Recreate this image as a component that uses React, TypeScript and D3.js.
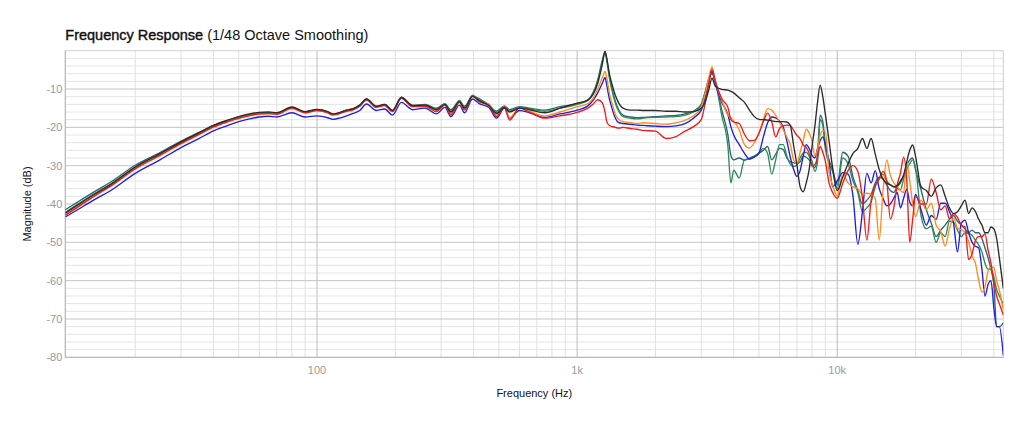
import React from "react";
import * as d3 from "d3";

const freqs = [
  10.77, 12, 14, 16, 20, 25, 30, 35, 40, 45, 50, 55, 60, 65, 70, 80, 90, 100,
  110, 115, 120, 130, 137, 146, 155, 169, 182, 195, 211, 233, 260, 288, 310, 327, 353, 369, 396, 420, 458, 490, 525, 550, 600, 656, 750, 860,
  1000, 1100, 1150, 1200, 1250, 1280, 1300, 1330, 1370, 1400, 1450, 1500, 1600, 1700, 1800, 2000, 2200, 2400, 2600, 2800, 3000, 3100, 3200, 3300,
  3400, 3600, 3800, 3900, 4000, 4200, 4400, 4600, 4800, 5000, 5200, 5400, 5600, 5800, 6000, 6200, 6400, 6600, 6800, 7000, 7200, 7400, 7600, 7800, 8000, 8200, 8400, 8600, 8800, 9000, 9300, 9600,
  10000, 10500, 11000, 11500, 12000, 12500, 13000, 13500, 14000, 14500, 15000, 15500, 16000, 16500, 17000, 17500, 18000, 18500, 19000, 19500, 20000, 21000, 22000, 23000, 24000, 25000, 26000, 27000, 28000, 29000, 30000, 31000, 32000, 33000, 34000, 35000, 36000, 37000, 38000, 39000, 40000, 41000, 42000, 43500,
];

const tealValues = [
  -41.5, -39.5, -36.7, -34.4, -29.9, -26.5, -23.6, -21.4, -19.5, -18.3, -17.3, -16.7, -16.3, -16.2, -16.4, -14.9, -16.0, -15.4,
  -16.0, -16.5, -16.3, -15.5, -15.2, -14.2, -12.6, -14.5, -14.0, -15.6, -12.1, -14.3, -14.0, -15.0, -13.9, -15.4, -13.2, -14.5, -11.9, -12.5, -14.2, -15.8, -14.4, -15.4, -14.6, -15.0, -15.5, -14.6,
  -13.8, -12.8, -11.0, -7.6, -2.5, -0.3, -2.2, -6.5, -10.6, -13.0, -15.6, -16.8, -17.3, -17.5, -17.4, -17.2, -17.0, -16.9, -16.5, -15.8, -14.0, -11.0, -7.8, -6.0,
  -8.2, -15.5, -22.0, -27.3, -28.5, -28.0, -28.6, -28.0, -27.5, -26.8, -26.0, -25.0, -28.5, -27.0, -25.5, -25.8, -28.0, -29.0, -29.2, -29.5, -29.0, -27.5, -27.8, -28.5, -29.5, -30.5, -27.0, -16.8, -18.5, -24.5, -28.5, -31.0,
  -35.0, -26.5, -27.5, -33.0, -36.5, -40.0, -39.0, -37.5, -34.5, -33.0, -33.5, -35.0, -36.5, -37.0, -35.5, -34.5, -32.5, -30.0, -28.5, -28.0, -31.1, -36.3, -41.5, -45.0, -48.5, -46.8, -45.5, -44.0, -43.0, -44.5, -45.5, -46.5, -47.5, -46.8, -47.5, -47.5, -49.0, -51.5, -54.0, -57.0, -61.0, -72.0, -72.0, -71.0,
];

const greenValues = [
  -42.2, -40.1, -37.2, -34.9, -30.3, -26.8, -23.9, -21.6, -19.7, -18.4, -17.4, -16.7, -16.3, -16.2, -16.4, -14.8, -16.0, -15.4,
  -16.0, -16.6, -16.4, -15.6, -15.3, -14.3, -12.7, -14.6, -14.1, -15.7, -12.2, -14.4, -14.2, -15.2, -13.8, -15.8, -13.0, -14.8, -11.6, -12.8, -14.0, -16.2, -14.6, -15.8, -14.8, -15.2, -15.8, -15.0,
  -14.0, -13.0, -11.3, -8.0, -3.0, -0.5, -2.5, -7.0, -11.1, -13.5, -16.0, -17.2, -17.6, -17.8, -17.6, -17.4, -17.3, -17.2, -16.8, -16.0, -14.2, -11.0, -7.5, -5.6,
  -8.0, -17.0, -25.0, -34.5, -31.2, -33.2, -28.5, -28.2, -27.8, -26.6, -25.5, -26.8, -32.2, -28.5, -24.5, -24.5, -27.5, -29.6, -30.2, -29.8, -28.0, -26.7, -26.5, -27.5, -28.8, -31.5, -29.0, -18.0, -19.5, -25.5, -29.5, -31.5,
  -36.0, -28.0, -29.5, -34.0, -37.0, -42.0, -41.0, -39.5, -35.5, -33.5, -32.2, -34.0, -35.0, -35.5, -36.0, -36.3, -33.5, -31.0, -29.5, -28.5, -30.5, -43.0, -46.5, -45.8, -50.0, -47.5, -48.5, -44.5, -44.8, -46.8, -48.5, -47.5, -47.7, -48.2, -49.5, -50.7, -52.5, -55.5, -57.0, -57.0, -59.0, -62.3, -64.0, -66.0,
];

const blueValues = [
  -43.4, -41.5, -38.8, -36.6, -32.0, -28.4, -25.3, -23.0, -20.9, -19.6, -18.5, -17.8, -17.3, -17.1, -17.3, -16.2, -17.3, -17.0,
  -17.5, -17.9, -17.7, -17.0, -16.4, -15.6, -13.9, -15.6, -15.2, -16.8, -13.5, -15.4, -15.0, -16.5, -14.8, -17.2, -14.2, -16.2, -12.6, -13.8, -14.8, -17.6, -15.0, -17.6, -15.6, -16.2, -17.4, -16.5,
  -15.5, -14.4, -13.0, -11.0, -8.5, -7.0, -9.0, -12.5, -15.6, -17.5, -18.8, -19.0, -19.2, -19.4, -19.5, -19.7, -19.8, -19.6, -19.0, -17.6, -15.5, -12.5, -8.5, -5.3,
  -8.8, -13.5, -16.7, -19.8, -22.0, -24.5, -26.8, -28.3, -27.7, -26.7, -22.5, -18.8, -17.3, -17.5, -18.4, -19.9, -23.5, -27.8, -31.0, -32.8, -31.3, -27.5, -24.5, -25.5, -27.3, -28.0, -25.5, -23.5, -22.5, -24.5, -29.0, -35.5,
  -34.0, -31.8, -32.2, -38.0, -50.5, -42.0, -32.0, -34.5, -31.3, -36.0, -38.5, -40.5, -40.0, -38.5, -37.0, -41.0, -38.5, -36.2, -39.5, -40.5, -37.5, -41.5, -45.5, -43.0, -44.0, -39.8, -39.8, -42.0, -45.0, -52.5, -45.0, -44.2, -47.5, -50.0, -51.0, -51.5, -57.0, -64.0, -61.0, -60.0, -67.0, -72.0, -72.0, -79.5,
];

const orangeValues = [
  -43.0, -40.9, -37.9, -35.5, -30.9, -27.3, -24.3, -22.0, -20.0, -18.7, -17.7, -17.0, -16.6, -16.4, -16.6, -15.1, -16.2, -15.6,
  -16.1, -16.6, -16.4, -15.6, -15.3, -14.3, -12.8, -14.6, -14.2, -15.7, -12.3, -14.5, -14.3, -15.6, -14.0, -16.4, -13.3, -15.2, -11.9, -13.2, -14.0, -16.8, -14.5, -17.5, -15.0, -15.8, -17.0, -16.0,
  -14.6, -13.8, -12.5, -10.0, -7.0, -5.4, -7.0, -11.0, -14.3, -16.5, -18.0, -18.5, -18.8, -19.0, -18.8, -19.0, -19.2, -18.8, -18.2, -17.0, -14.8, -11.5, -7.5, -4.2,
  -8.0, -12.9, -16.8, -17.5, -18.3, -20.7, -24.5, -25.4, -24.0, -21.5, -18.0, -15.1, -15.5, -16.9, -18.6, -20.6, -22.5, -24.5, -28.5, -29.5, -26.5, -23.5, -20.5, -21.5, -23.5, -27.5, -25.8, -22.0, -21.0, -21.0, -31.5, -35.0,
  -38.0, -32.0, -34.5, -35.5, -36.0, -37.5, -37.2, -37.5, -38.6, -49.4, -36.5, -28.5, -32.5, -34.5, -35.5, -36.5, -37.0, -29.0, -34.0, -40.0, -43.3, -39.0, -41.5, -39.8, -45.5, -47.2, -51.0, -46.5, -43.7, -46.3, -46.7, -47.5, -49.8, -53.5, -55.5, -60.0, -63.0, -61.5, -57.5, -56.5, -56.5, -60.0, -62.5, -67.6,
];

const redValues = [
  -42.9, -40.8, -37.8, -35.4, -30.8, -27.2, -24.2, -21.9, -19.9, -18.6, -17.6, -16.9, -16.5, -16.4, -16.6, -15.0, -16.2, -15.6,
  -16.2, -16.8, -16.6, -15.8, -15.5, -14.5, -12.9, -14.8, -14.3, -15.9, -12.4, -14.6, -14.5, -15.9, -14.2, -16.8, -13.5, -15.5, -11.8, -13.3, -14.3, -17.2, -14.7, -18.1, -15.0, -16.0, -17.6, -17.0,
  -16.1, -15.0, -14.0, -12.8, -13.6, -16.0, -18.5, -19.5, -19.8, -20.0, -20.2, -20.0, -20.3, -20.5, -20.8, -21.0, -22.9, -22.4, -21.0, -19.8, -18.0, -14.0, -9.0, -4.8,
  -8.0, -12.5, -14.8, -18.0, -18.6, -19.0, -21.8, -23.5, -23.4, -21.6, -18.5, -16.3, -18.5, -22.5, -20.3, -19.6, -19.4, -19.5, -20.8, -22.1, -23.0, -24.6, -25.2, -26.8, -30.2, -29.8, -27.8, -25.0, -26.5, -28.8, -34.5, -37.0,
  -38.5, -34.6, -31.3, -30.0, -31.5, -38.5, -49.4, -39.0, -35.2, -33.3, -31.5, -34.0, -43.9, -41.0, -35.0, -32.0, -27.8, -33.5, -50.0, -44.0, -38.0, -40.0, -40.0, -33.5, -37.0, -41.5, -40.5, -43.8, -42.5, -43.5, -45.5, -46.0, -54.5, -53.0, -49.5, -48.5, -48.5, -47.8, -52.0, -55.5, -60.5, -64.0, -66.0, -69.0,
];

const blackValues = [
  -42.4, -40.3, -37.4, -35.0, -30.4, -26.8, -23.8, -21.5, -19.5, -18.2, -17.2, -16.5, -16.1, -16.0, -16.2, -14.7, -15.9, -15.3,
  -15.9, -16.5, -16.3, -15.5, -15.2, -14.2, -12.6, -14.5, -14.0, -15.6, -12.2, -14.3, -14.2, -15.4, -14.0, -16.0, -13.3, -15.0, -11.9, -13.0, -14.3, -16.4, -14.8, -16.0, -15.0, -15.4, -16.2, -15.0,
  -13.7, -12.9, -11.5, -8.5, -3.5, -0.1, -2.0, -6.0, -9.4, -11.5, -13.8, -15.0, -15.5, -15.5, -15.6, -15.6, -15.8, -15.8, -16.0, -15.9, -15.0, -13.5, -10.5, -7.2,
  -9.3, -10.1, -10.3, -10.6, -11.0, -12.3, -13.5, -15.5, -17.2, -17.9, -18.0, -18.1, -18.3, -18.5, -18.5, -18.5, -18.6, -19.5, -24.8, -29.8, -35.5, -36.8, -34.5, -31.0, -25.0, -19.8, -13.5, -9.0, -12.0, -16.5, -23.5, -30.5,
  -36.5, -33.0, -29.5, -26.8, -25.5, -22.9, -25.5, -22.9, -27.0, -31.0, -33.5, -34.6, -35.0, -35.5, -35.2, -34.0, -32.5, -29.0, -26.0, -24.6, -27.5, -35.5, -36.5, -38.0, -35.8, -35.0, -38.0, -41.0, -42.5, -42.0, -40.5, -39.0, -42.5, -41.0, -42.0, -44.0, -45.5, -47.5, -47.5, -46.0, -46.5, -49.0, -54.0, -62.0,
];

const seriesNames = ["teal", "green", "blue", "orange", "red", "black"];
const seriesColors = ["#2c6479", "#2e8b57", "#1f1fe0", "#ff8c1a", "#ee1c1c", "#2b2b2b"];
const seriesValues = [tealValues, greenValues, blueValues, orangeValues, redValues, blackValues];

const yTicks = [-80, -70, -60, -50, -40, -30, -20, -10];
const xTickValues = [100, 1000, 10000];
const xTickLabels = ["100", "1k", "10k"];

const W = 1024;
const H = 427;
const L = 65.3;
const R = 1003.3;
const T = 50.7;
const B = 357.3;

export default function App() {
  const x = d3.scaleLog().domain([10.77, 43500]).range([L, R]);
  const y = d3.scaleLinear().domain([-80, 0]).range([B, T]);

  const minorX: number[] = [];
  [10, 100, 1000, 10000].forEach((dec) => {
    for (let m = 2; m <= 9; m++) {
      const f = dec * m;
      if (f > 10.77 && f < 43500) minorX.push(f);
    }
  });
  const minorY: number[] = [];
  for (let v = -78; v < 0; v += 2) if (v % 10 !== 0) minorY.push(v);

  const line = d3
    .line<number>()
    .x((_, i) => x(freqs[i]))
    .y((d) => y(d))
    .curve(d3.curveMonotoneX);

  const font = "'Liberation Sans', Arial, Helvetica, sans-serif";

  return (
    <svg
      width={W}
      height={H}
      style={{ position: "absolute", left: 0, top: 0, background: "#fff" }}
      fontFamily={font}
    >
      <defs>
        <clipPath id="plot">
          <rect x={L} y={T} width={R - L} height={B - T} />
        </clipPath>
      </defs>
      <text x={L} y={40} fontSize={14.5} fill="#111">
        <tspan stroke="#111" strokeWidth={0.4}>Frequency Response</tspan>
        <tspan> (1/48 Octave Smoothing)</tspan>
      </text>
      <g>
        {minorY.map((v) => (
          <line key={"my" + v} x1={L} x2={R} y1={y(v)} y2={y(v)} stroke="#e4e4e4" strokeWidth={1} />
        ))}
        {minorX.map((f) => (
          <line key={"mx" + f} x1={x(f)} x2={x(f)} y1={T} y2={B} stroke="#e0e0e0" strokeWidth={1} />
        ))}
        {yTicks.slice(1).map((v) => (
          <line key={"y" + v} x1={L} x2={R} y1={y(v)} y2={y(v)} stroke="#c4c4c4" strokeWidth={1} />
        ))}
        {xTickValues.map((f) => (
          <line key={"x" + f} x1={x(f)} x2={x(f)} y1={T} y2={B} stroke="#bdbdbd" strokeWidth={1} />
        ))}
        <rect x={L} y={T} width={R - L} height={B - T} fill="none" stroke="#cfcfcf" strokeWidth={1} />
        <line x1={L} x2={L} y1={T} y2={B} stroke="#b5b5b5" />
        <line x1={L} x2={R} y1={B} y2={B} stroke="#b5b5b5" />
      </g>
      <g clipPath="url(#plot)">
        {seriesValues.map((vals, k) => (
          <path
            key={seriesNames[k]}
            d={line(vals) || ""}
            fill="none"
            stroke={seriesColors[k]}
            strokeWidth={1.35}
            strokeLinejoin="round"
          />
        ))}
      </g>
      {yTicks.map((v) => (
        <text key={"yl" + v} x={L - 3} y={y(v)} dy="0.35em" textAnchor="end" fontSize={11} fill="#9a9a9a">
          {String(v)}
        </text>
      ))}
      {xTickValues.map((f, i) => (
        <text key={"xl" + f} x={x(f)} y={373.5} textAnchor="middle" fontSize={11} fill="#9a9a9a">
          {xTickLabels[i]}
        </text>
      ))}
      <text x={(L + R) / 2} y={397} textAnchor="middle" fontSize={11} fill="#111">
        Frequency (Hz)
      </text>
      <text
        transform={`translate(31, ${(T + B) / 2}) rotate(-90)`}
        textAnchor="middle"
        fontSize={11}
        fill="#111"
      >
        Magnitude (dB)
      </text>
    </svg>
  );
}
